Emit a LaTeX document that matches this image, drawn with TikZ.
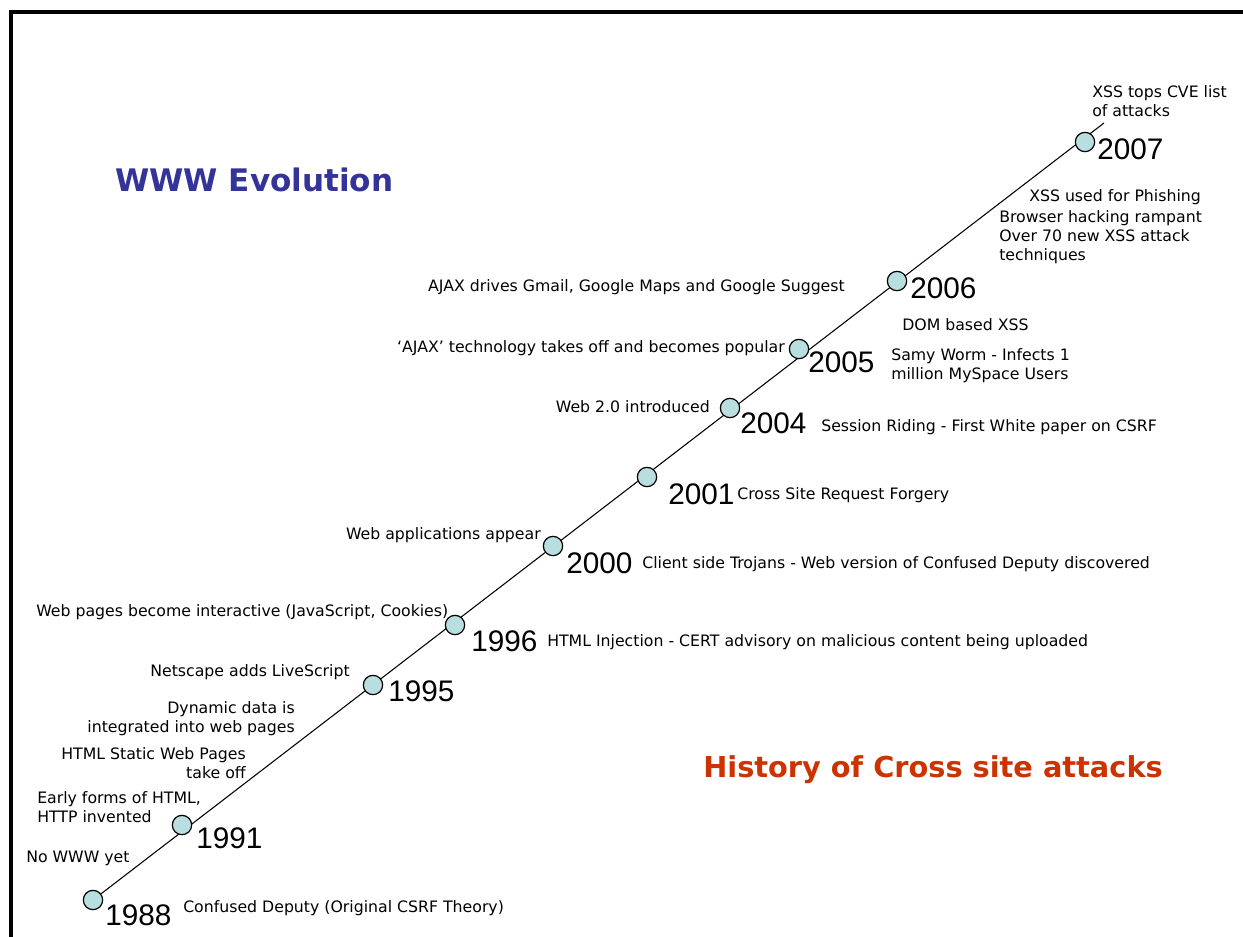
\documentclass[tikz,border=0pt]{standalone}
\usepackage{fontspec}
\setmainfont{DejaVu Sans}
\newfontfamily\yearfont{Liberation Sans}
\usetikzlibrary{backgrounds}
\definecolor{bubbleCyan}{RGB}{185, 222, 224}
\definecolor{titleBlue}{RGB}{51, 51, 153}
\definecolor{titleRed}{RGB}{204, 51, 0}

\begin{document}
\begin{tikzpicture}[
    x=0.75pt, y=-0.75pt,
    every node/.style={inner sep=0pt},
    event/.style={circle, draw=black, fill=bubbleCyan, minimum size=14.5pt, line width=0.9pt},
    yearlabel/.style={anchor=west, font=\yearfont\fontsize{22.3}{26}\selectfont},
    note/.style={font=\fontsize{11.8}{14.25}\selectfont},
    timeline/.style={draw=black, line width=0.8pt},
    pageframe/.style={draw=black, line width=2.6pt},
    heading/.style={font=\bfseries\fontsize{23.3}{28}\selectfont},
]
\useasboundingbox (0,0) rectangle (1243,936);
\draw[pageframe] (11,940) -- (11,12) -- (1250,12);
% events on the timeline
\node[event] (e1988) at (93,900) {};
\node[event] (e1991) at (182,825) {};
\node[event] (e1995) at (373,685) {};
\node[event] (e1996) at (455,625) {};
\node[event] (e2000) at (553,546) {};
\node[event] (e2001) at (647,477) {};
\node[event] (e2004) at (730,408) {};
\node[event] (e2005) at (799,349) {};
\node[event] (e2006) at (897,281) {};
\node[event] (e2007) at (1085,142) {};
\coordinate (tlend) at (1104,123);
\begin{scope}[on background layer]
\draw[timeline] (e1988) -- (tlend);
\end{scope}
% years
\node[yearlabel] (y1988) at (105,915) {1988};
\node[yearlabel] (y1991) at (196,838) {1991};
\node[yearlabel] (y1995) at (388,691) {1995};
\node[yearlabel] (y1996) at (471,641) {1996};
\node[yearlabel] (y2000) at (566,563) {2000};
\node[yearlabel] (y2001) at (668,494) {2001};
\node[yearlabel] (y2004) at (740,423) {2004};
\node[yearlabel] (y2005) at (808,362) {2005};
\node[yearlabel] (y2006) at (910,288) {2006};
\node[yearlabel] (y2007) at (1097,149) {2007};
% web evolution (left)
\node[note, anchor=west] (w1988) at (26,858) {No WWW yet};
\node[note, anchor=west, align=left] (w1991) at (37,807) {Early forms of HTML,\\HTTP invented};
\node[note, anchor=east, align=right] (w1993) at (246,763) {HTML Static Web Pages\\take off};
\node[note, anchor=east, align=right] (w1994) at (295,719) {Dynamic data is\\integrated into web pages};
\node[note, anchor=east] (w1995) at (350,672) {Netscape adds LiveScript};
\node[note, anchor=west] (w1996) at (36,612) {Web pages become interactive (JavaScript, Cookies)};
\node[note, anchor=east] (w2000) at (541,535) {Web applications appear};
\node[note, anchor=east] (w2004) at (710,407) {Web 2.0 introduced};
\node[note, anchor=east] (w2005) at (785,348) {‘AJAX’ technology takes off and becomes popular};
\node[note, anchor=east] (w2006) at (845,287) {AJAX drives Gmail, Google Maps and Google Suggest};
% cross site attacks (right)
\node[note, anchor=west] (a1988) at (183,908) {Confused Deputy (Original CSRF Theory)};
\node[note, anchor=west] (a1996) at (547,642) {HTML Injection - CERT advisory on malicious content being uploaded};
\node[note, anchor=west] (a2000) at (642,564) {Client side Trojans - Web version of Confused Deputy discovered};
\node[note, anchor=west] (a2001) at (737,495) {Cross Site Request Forgery};
\node[note, anchor=west] (a2004) at (821,427) {Session Riding - First White paper on CSRF};
\node[note, anchor=west, align=left] (a2005) at (891,366) {Samy Worm - Infects 1\\million MySpace Users};
\node[note, anchor=west] (a2005b) at (902,325) {DOM based XSS};
\node[note, anchor=west] (a2006) at (1029,197) {XSS used for Phishing};
\node[note, anchor=west, align=left] (a2006b) at (999,237) {Browser hacking rampant\\Over 70 new XSS attack\\techniques};
\node[note, anchor=west, align=left] (a2007) at (1092,101) {XSS tops CVE list\\of attacks};
% titles
\node[heading, text=titleBlue, anchor=west] (twww) at (115,180) {WWW Evolution};
\node[heading, text=titleRed, anchor=west, font=\bfseries\fontsize{21.6}{26}\selectfont] (txss) at (703,770) {History of Cross site attacks};
\end{tikzpicture}
\end{document}
